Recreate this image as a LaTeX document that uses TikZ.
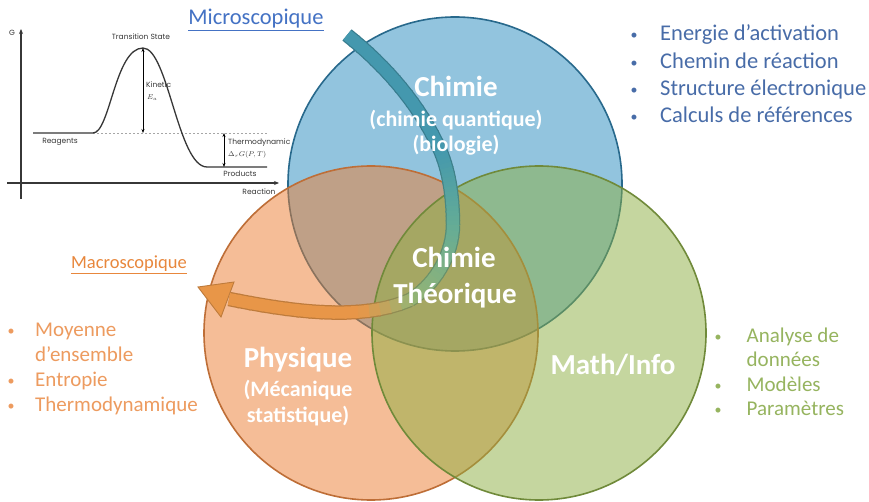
\documentclass[tikz,border=0pt]{standalone}
\usepackage{fontspec}
\setmainfont{Carlito}
\newfontfamily\diagfont{Poppins}
\usetikzlibrary{arrows.meta}
\definecolor{blueC}{RGB}{38,139,190}
\definecolor{blueB}{RGB}{40,105,140}
\definecolor{orangeC}{RGB}{237,125,49}
\definecolor{orangeB}{RGB}{190,110,55}
\definecolor{greenC}{RGB}{140,175,65}
\definecolor{greenB}{RGB}{112,138,58}
\definecolor{bandteal}{RGB}{68,152,174}
\definecolor{bandmid}{RGB}{100,172,150}
\definecolor{bandgreen}{RGB}{150,180,115}
\definecolor{bandorange}{RGB}{232,150,72}
\definecolor{microblue}{RGB}{68,114,196}
\definecolor{macroorange}{RGB}{232,135,60}
\definecolor{listblue}{RGB}{72,108,168}
\definecolor{listorange}{RGB}{237,155,95}
\definecolor{listgreen}{RGB}{150,180,95}
\definecolor{diag}{RGB}{55,55,55}
\newcommand{\bul}{\raisebox{1pt}{\fontsize{14}{14}\selectfont •}}
% piece of the curved band: #1 start, #2 #3 controls, #4 end, #5 start colour, #6 end colour,
% #7 line width, #8 darkening, #9 fraction of the piece over which the colour changes
\newcommand{\bandpiece}[9]{%
  \foreach \i in {1,...,16} {
    \pgfmathsetmacro\ta{(\i-1)/16}
    \pgfmathsetmacro\tb{min(\i/16+0.012,1)}
    \pgfmathsetmacro\pc{min(100,100*(\i-0.5)/16/#9)}
    \colorlet{segbase}{#6!\pc!#5}
    \colorlet{segcol}{segbase!#8!black}
    \path (#1) .. controls (#2) and (#3) .. (#4) coordinate[pos=\ta] (sa) coordinate[pos=\tb] (sb);
    \draw[line cap=butt, line width=#7, draw=segcol] (sa) -- (sb);
  }%
}
\tikzset{
  venn/.style={circle, minimum size=334pt, inner sep=0pt, line width=1.6pt, fill opacity=0.5},
  lbl/.style={text=white, font=\bfseries\fontsize{29}{34}\selectfont, inner sep=0pt, anchor=base},
  sublbl/.style={text=white, font=\bfseries\fontsize{22}{26}\selectfont, inner sep=0pt, anchor=base},
  axisline/.style={draw=diag, line width=1.2pt, -{Stealth[length=5pt,width=4pt]}},
  ecurve/.style={draw=diag, line width=1.3pt, line join=round},
  dimarrow/.style={draw=black, line width=0.8pt, {Stealth[length=4pt,width=3pt]}-{Stealth[length=4pt,width=3pt]}},
  elbl/.style={font=\diagfont\fontsize{7.5}{9}\selectfont, text=diag, inner sep=0pt},
  listnode/.style={anchor=base west, inner sep=0pt},
}
\begin{document}
\begin{tikzpicture}[x=1pt,y=-1pt]
\useasboundingbox (0,0) rectangle (869,502);
\fill[white] (0,0) rectangle (869,502);

% ---- Venn circles
\node[venn, fill=blueC, draw=blueB] (chem) at (455,184) {};
\node[venn, fill=orangeC, draw=orangeB] (phy) at (371,333) {};
\node[venn, fill=greenC, draw=greenB] (mat) at (539,333) {};

% ---- curved arrow (micro -> macro)
\coordinate (bA) at (347,35);
\coordinate (bB) at (440,150);
\coordinate (bC) at (453,225);
\coordinate (bD) at (410,300);
\coordinate (bE) at (229,299);
\coordinate (cA1) at (385,65);
\coordinate (cB0) at (420,105);
\coordinate (cB1) at (450,173);
\coordinate (cC0) at (453,200);
\coordinate (cC1) at (453,254);
\coordinate (cD0) at (435,285);
\coordinate (cD1) at (360,322);
\coordinate (cE0) at (289,311);
\coordinate (hT) at (198,287);
\coordinate (hA) at (234,282);
\coordinate (hB) at (221,317);
% outline pass
\bandpiece{bA}{cA1}{cB0}{bB}{bandteal}{bandteal}{14.5pt}{82}{1}
\bandpiece{bB}{cB1}{cC0}{bC}{bandteal}{bandmid}{14.5pt}{82}{1}
\bandpiece{bC}{cC1}{cD0}{bD}{bandmid}{bandgreen}{14.5pt}{82}{1}
\bandpiece{bD}{cD1}{cE0}{bE}{bandgreen}{bandorange}{14.5pt}{82}{0.3}
\filldraw[fill=bandorange, draw=bandorange!82!black, line width=0.9pt, line join=miter] (hT) -- (hA) -- (hB) -- cycle;
% fill pass
\bandpiece{bA}{cA1}{cB0}{bB}{bandteal}{bandteal}{12pt}{100}{1}
\bandpiece{bB}{cB1}{cC0}{bC}{bandteal}{bandmid}{12pt}{100}{1}
\bandpiece{bC}{cC1}{cD0}{bD}{bandmid}{bandgreen}{12pt}{100}{1}
\bandpiece{bD}{cD1}{cE0}{bE}{bandgreen}{bandorange}{12pt}{100}{0.3}

% ---- circle labels
\node[lbl] (chimie) at (456,97) {Chimie};
\node[sublbl] (chq) at (456,127) {(chimie quantique)};
\node[sublbl] (bio) at (456,152) {(biologie)};
\node[lbl] (ct1) at (454,268) {Chimie};
\node[lbl] (ct2) at (455,303) {Théorique};
\node[lbl] (phys) at (298,367) {Physique};
\node[sublbl] (meca) at (298,396) {(Mécanique};
\node[sublbl] (stat) at (298,422) {statistique)};
\node[lbl] (math) at (613,374) {Math/Info};

% ---- titles
\node[anchor=base, inner sep=0pt, text=microblue, font=\fontsize{22.5}{27}\selectfont] (micro) at (256,25) {\underline{Microscopique}};
\node[anchor=base, inner sep=0pt, text=macroorange, font=\fontsize{18.5}{22}\selectfont] (macro) at (129,269) {\underline{Macroscopique}};

% ---- lists
\node[listnode, text=listblue, font=\fontsize{22.5}{27.3}\selectfont] (blist) at (630.5,41) {\begin{tabular}[t]{@{}l@{}l@{}}
\makebox[29.5pt][l]{\bul} & Energie d’activation\\
\makebox[29.5pt][l]{\bul} & Chemin de réaction\\
\makebox[29.5pt][l]{\bul} & Structure électronique\\
\makebox[29.5pt][l]{\bul} & Calculs de références
\end{tabular}};
\node[listnode, text=listorange, font=\fontsize{21}{25}\selectfont] (olist) at (7.5,336) {\begin{tabular}[t]{@{}l@{}l@{}}
\makebox[27.5pt][l]{\bul} & Moyenne\\
 & d’ensemble\\
\makebox[27.5pt][l]{\bul} & Entropie\\
\makebox[27.5pt][l]{\bul} & Thermodynamique
\end{tabular}};
\node[listnode, text=listgreen, font=\fontsize{21}{24.5}\selectfont] (glist) at (714.5,342) {\begin{tabular}[t]{@{}l@{}l@{}}
\makebox[32pt][l]{\bul} & Analyse de\\
 & données\\
\makebox[32pt][l]{\bul} & Modèles\\
\makebox[32pt][l]{\bul} & Paramètres
\end{tabular}};

% ---- energy diagram
\coordinate (gBot) at (21,199);
\coordinate (gTop) at (21,29);
\coordinate (rL) at (7,183);
\coordinate (rR) at (279,183);
\draw[axisline] (gBot) -- (gTop);
\draw[axisline] (rL) -- (rR);
\coordinate (reagL) at (33,133);
\coordinate (reagR) at (93,133);
\coordinate (peak) at (143,48);
\coordinate (prodL) at (207,167);
\coordinate (prodR) at (267,167);
\coordinate (dashR) at (267,133);
\coordinate (kinB) at (143,133);
\coordinate (thT) at (224,133);
\coordinate (thB) at (224,167);
\draw[draw=gray!70, line width=0.8pt, dash pattern=on 2pt off 2pt] (reagR) -- (dashR);
\draw[ecurve] (reagL) -- (reagR) .. controls (110,133) and (115,48) .. (peak) .. controls (168,48) and (178,167) .. (prodL) -- (prodR);
\draw[dimarrow] (peak) -- (kinB);
\draw[dimarrow] (thT) -- (thB);
\node[elbl] (gG) at (12,33) {G};
\node[elbl] (ts) at (141,37) {Transition State};
\node[elbl, anchor=west] (kin) at (146,85) {Kinetic};
\node[elbl, anchor=west] (ea) at (147,98) {$E_a$};
\node[elbl] (reag) at (60,142) {Reagents};
\node[elbl, anchor=west] (thermo) at (228,143) {Thermodynamic};
\node[elbl, anchor=west] (drg) at (228,155) {$\Delta_r G(P,T)$};
\node[elbl] (prod) at (240,174) {Products};
\node[elbl] (reac) at (259,192) {Reaction};
\end{tikzpicture}
\end{document}
